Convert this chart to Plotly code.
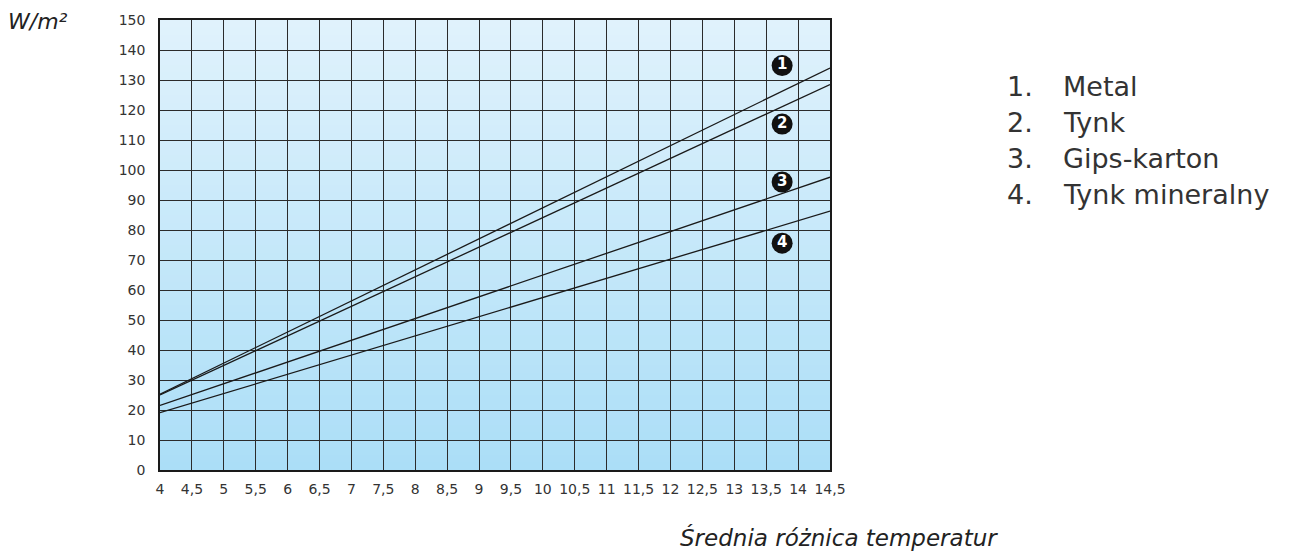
import plotly.graph_objects as go

# Average temperature difference (x) and heat output in W/m² (y)
x_ticks = [4, 4.5, 5, 5.5, 6, 6.5, 7, 7.5, 8, 8.5, 9, 9.5, 10, 10.5, 11, 11.5,
           12, 12.5, 13, 13.5, 14, 14.5]
x_tick_labels = ["4", "4,5", "5", "5,5", "6", "6,5", "7", "7,5", "8", "8,5", "9",
                 "9,5", "10", "10,5", "11", "11,5", "12", "12,5", "13", "13,5",
                 "14", "14,5"]
y_ticks = [0, 10, 20, 30, 40, 50, 60, 70, 80, 90, 100, 110, 120, 130, 140, 150]

dt = [4, 14.5]
metal = [25.3, 134.0]
tynk = [25.0, 128.5]
gips_karton = [21.5, 97.6]
tynk_mineralny = [19.1, 86.3]

series_names = ["Metal", "Tynk", "Gips-karton", "Tynk mineralny"]
series_values = [metal, tynk, gips_karton, tynk_mineralny]

# Numbered badges next to the line ends
badge_x = [13.75, 13.75, 13.75, 13.75]
badge_y = [134.8, 115.3, 96.0, 75.6]
badge_text = ["1", "2", "3", "4"]

fig = go.Figure()

# Vertical gradient behind the grid, built from thin horizontal bands
top_rgb = (0xE0, 0xF2, 0xFC)
bottom_rgb = (0xAB, 0xDE, 0xF7)
n_bands = 60
for i in range(n_bands):
    t = (i + 0.5) / n_bands
    r, g, b = (round(bottom_rgb[k] + (top_rgb[k] - bottom_rgb[k]) * t) for k in range(3))
    fig.add_shape(type="rect", xref="x", yref="y", layer="below",
                  x0=4, x1=14.5, y0=150 * i / n_bands, y1=150 * (i + 1) / n_bands + 0.3,
                  line=dict(width=0), fillcolor=f"rgb({r},{g},{b})")

for name, vals in zip(series_names, series_values):
    fig.add_trace(go.Scatter(
        x=dt, y=vals, mode="lines", name=name,
        line=dict(color="#1a1a1a", width=1.3), showlegend=False,
    ))

fig.add_trace(go.Scatter(
    x=badge_x, y=badge_y, mode="markers+text",
    marker=dict(size=21, color="#111111", symbol="circle"),
    text=badge_text, textposition="middle center",
    textfont=dict(family="DejaVu Sans", size=15, color="white", weight="bold"),
    showlegend=False, hoverinfo="skip",
))

# Numbered key on the right
for i, name in enumerate(series_names):
    yy = 85 + i * 36
    fig.add_annotation(xref="paper", yref="paper", x=(1005 - 160) / 670,
                       y=1 - (yy - 18) / 452, text=f"{i + 1}.",
                       showarrow=False, xanchor="left", yanchor="middle",
                       font=dict(family="DejaVu Sans", size=27, color="#333333"))
    fig.add_annotation(xref="paper", yref="paper", x=(1061 - 160) / 670,
                       y=1 - (yy - 18) / 452, text=name,
                       showarrow=False, xanchor="left", yanchor="middle",
                       font=dict(family="DejaVu Sans", size=27, color="#333333"))

fig.add_annotation(xref="paper", yref="paper", x=(6 - 160) / 670,
                   y=1 - (20 - 18) / 452, text="<i>W/m²</i>",
                   showarrow=False, xanchor="left", yanchor="middle",
                   font=dict(family="DejaVu Sans", size=22, color="#222222"))

fig.add_annotation(xref="paper", yref="paper", x=(678 - 160) / 670,
                   y=1 - (538 - 18) / 452, text="<i>Średnia różnica temperatur</i>",
                   showarrow=False, xanchor="left", yanchor="middle",
                   font=dict(family="DejaVu Sans", size=23, color="#222222"))

fig.update_xaxes(
    range=[4, 14.5], tickvals=x_ticks, ticktext=x_tick_labels,
    showgrid=True, gridcolor="#2b2b2b", gridwidth=1,
    showline=True, linecolor="#1a1a1a", linewidth=1.5, mirror=True,
    zeroline=False, ticks="", ticklabelstandoff=5,
    tickfont=dict(family="DejaVu Sans", size=14, color="#333333"),
)
fig.update_yaxes(
    range=[0, 150], tickvals=y_ticks,
    showgrid=True, gridcolor="#2b2b2b", gridwidth=1,
    showline=True, linecolor="#1a1a1a", linewidth=1.5, mirror=True,
    zeroline=False, ticks="", ticklabelstandoff=10,
    tickfont=dict(family="DejaVu Sans", size=14, color="#333333"),
)

fig.update_layout(
    width=1294, height=555,
    margin=dict(l=160, r=464, t=18, b=85),
    paper_bgcolor="white", plot_bgcolor="white",
    showlegend=False,
)

fig.write_html("out.html")
